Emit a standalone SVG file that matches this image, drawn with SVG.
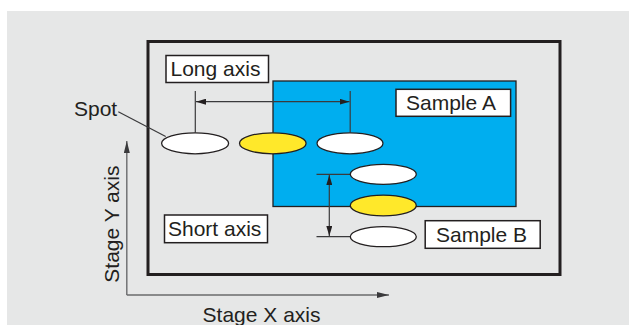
<svg xmlns="http://www.w3.org/2000/svg" width="629" height="325" viewBox="0 0 629 325">
<style>
text{font-family:"Liberation Sans",Arial,sans-serif;font-size:21px;fill:#231f20}
.lbl{fill:#fff;stroke:#231f20;stroke-width:1.5}
.sp{stroke:#231f20;stroke-width:1.3}
.w{fill:#fff}
.y{fill:#ffe82a}
.dim{stroke:#3a3a3c;stroke-width:1.2;fill:none}
.ax{stroke:#6a6b6d;stroke-width:1.4;fill:none}
</style>
<defs>
<marker id="ah" viewBox="0 0 10 6" refX="10" refY="3" markerWidth="10" markerHeight="6" markerUnits="userSpaceOnUse" orient="auto-start-reverse">
<path d="M0,0 L10,3 L0,6 Z" fill="#231f20"/>
</marker>
<marker id="axh" viewBox="0 0 12 6" refX="12" refY="3" markerWidth="12" markerHeight="6" markerUnits="userSpaceOnUse" orient="auto">
<path d="M0,0 L12,3 L0,6 Z" fill="#3a3a3c"/>
</marker>
</defs>
<rect x="7" y="11" width="622" height="314" fill="#e6e7e7"/>
<g id="stage">
<rect x="148" y="41.5" width="412" height="233" fill="none" stroke="#231f20" stroke-width="3"/>
</g>
<g id="sampleA-region">
<rect x="273" y="81" width="243" height="125.5" fill="#00aeef" stroke="#231f20" stroke-width="1.3"/>
</g>
<g id="connectors">
<line class="dim" x1="195.3" y1="91" x2="195.3" y2="132.7"/>
<line class="dim" x1="350.2" y1="91" x2="350.2" y2="132.7"/>
<line class="dim" x1="196" y1="101.7" x2="349.5" y2="101.7" marker-start="url(#ah)" marker-end="url(#ah)"/>
<line class="dim" x1="316.5" y1="174.3" x2="350.5" y2="174.3"/>
<line class="dim" x1="316.5" y1="236.7" x2="350.5" y2="236.7"/>
<line class="dim" x1="329.3" y1="175" x2="329.3" y2="236" marker-start="url(#ah)" marker-end="url(#ah)"/>
<line class="dim" x1="118.3" y1="111.7" x2="165.7" y2="136.5"/>
<line class="ax" x1="126.8" y1="295" x2="126.8" y2="141" marker-end="url(#axh)"/>
<line class="ax" x1="126.8" y1="295" x2="389" y2="295" marker-end="url(#axh)"/>
</g>
<g id="spot1"><ellipse class="sp w" cx="195.1" cy="143.3" rx="33.5" ry="10.5"/></g>
<g id="spot2"><ellipse class="sp y" cx="272.8" cy="143.3" rx="33.3" ry="10.5"/></g>
<g id="spot3"><ellipse class="sp w" cx="350" cy="143.3" rx="33" ry="10.5"/></g>
<g id="spot4"><ellipse class="sp w" cx="383.3" cy="174.3" rx="33" ry="10"/></g>
<g id="spot5"><ellipse class="sp y" cx="383.3" cy="205.5" rx="33" ry="10.3"/></g>
<g id="spot6"><ellipse class="sp w" cx="383.3" cy="236.7" rx="33" ry="10"/></g>
<g id="long-axis"><rect class="lbl" x="166" y="55.5" width="102.5" height="27"/><text x="170.5" y="76">Long axis</text></g>
<g id="sample-a"><rect class="lbl" x="396" y="89.3" width="114.6" height="27"/><text x="406" y="110">Sample A</text></g>
<g id="short-axis"><rect class="lbl" x="164.5" y="215" width="103" height="27.7"/><text x="168" y="236">Short axis</text></g>
<g id="sample-b"><rect class="lbl" x="425.2" y="220.7" width="115" height="27.6"/><text x="436" y="242.3">Sample B</text></g>
<g id="spot-label"><text x="74" y="116">Spot</text></g>
<g id="stage-y"><text transform="translate(118.5,282.7) rotate(-90)">Stage Y axis</text></g>
<g id="stage-x"><text x="202.6" y="321.5">Stage X axis</text></g>
</svg>
